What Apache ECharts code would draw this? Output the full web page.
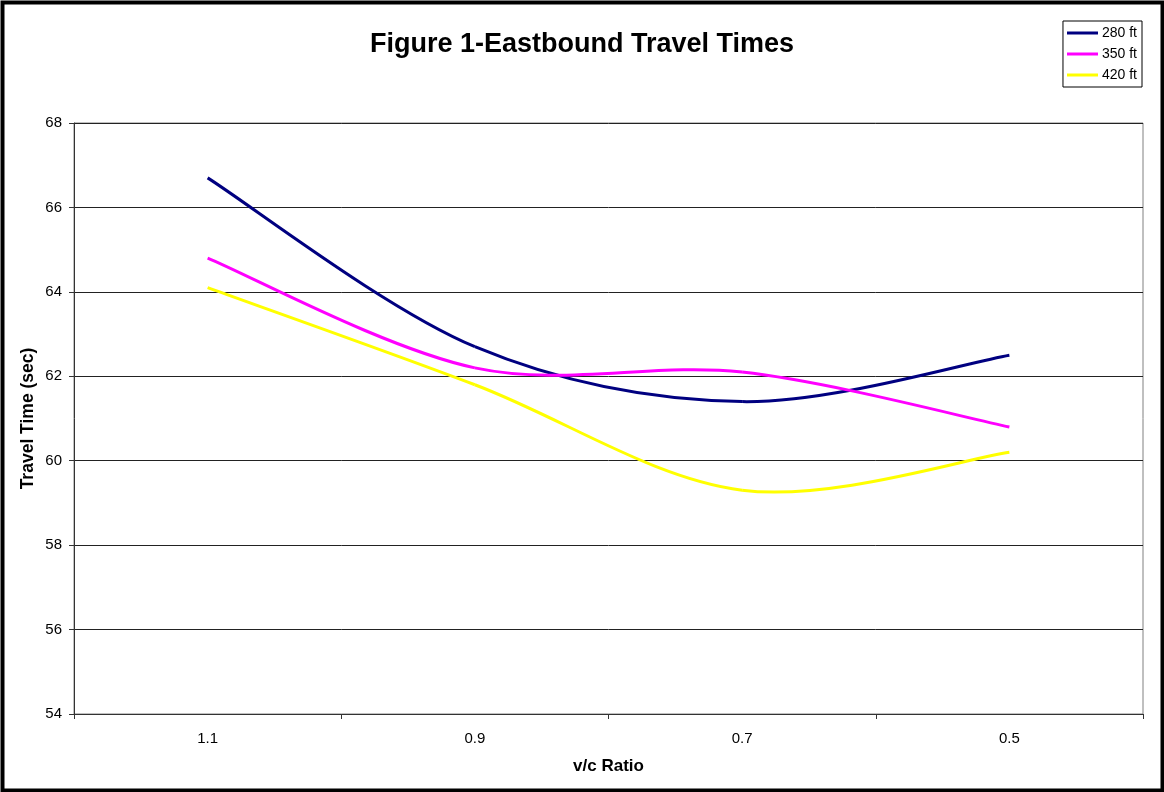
<!DOCTYPE html>
<html>
<head>
<meta charset="utf-8">
<script src="https://cdn.jsdelivr.net/npm/echarts@6/dist/echarts.min.js"></script>
<style>
  html, body { margin: 0; padding: 0; background: #fff; }
  #chart { width: 1164px; height: 792px; }
</style>
</head>
<body>
<div id="chart"></div>
<script>
// v/c ratio categories and travel times (sec) per storage length
const categories = ['1.1', '0.9', '0.7', '0.5'];
const series280 = [66.7, 62.7, 61.4, 62.5];
const series350 = [64.8, 62.2, 62.1, 60.8];
const series420 = [64.1, 61.8, 59.3, 60.2];
const seriesNames = ['280 ft', '350 ft', '420 ft'];
const seriesColors = ['#000080', '#FF00FF', '#FFFF00'];
const seriesValues = [series280, series350, series420];

const font = 'Liberation Sans, Arial, sans-serif';
const chart = echarts.init(document.getElementById('chart'));

// Smoothed line drawn segment by segment: each segment is a cubic Bezier
// through two data points, with Catmull-Rom style control points taken from
// the neighbouring points (all positions come from api.coord).
function smoothSegment(values, color) {
  return function (params, api) {
    const n = values.length;
    const i = params.dataIndex;
    if (i >= n - 1) return null;
    const pt = k => {
      const j = Math.max(0, Math.min(n - 1, k));
      return api.coord([j, values[j]]);
    };
    const p0 = pt(i - 1), p1 = pt(i), p2 = pt(i + 1), p3 = pt(i + 2);
    return {
      type: 'bezierCurve',
      shape: {
        x1: p1[0], y1: p1[1],
        x2: p2[0], y2: p2[1],
        cpx1: p1[0] + (p2[0] - p0[0]) / 6,
        cpy1: p1[1] + (p2[1] - p0[1]) / 6,
        cpx2: p2[0] - (p3[0] - p1[0]) / 6,
        cpy2: p2[1] - (p3[1] - p1[1]) / 6
      },
      style: { stroke: color, lineWidth: 3, fill: 'none', lineCap: 'butt' },
      silent: true
    };
  };
}

function curveSeries(idx) {
  const values = seriesValues[idx];
  return {
    name: seriesNames[idx],
    type: 'custom',
    data: values.map((v, i) => [i, v]),
    encode: { x: 0, y: 1 },
    renderItem: smoothSegment(values, seriesColors[idx]),
    itemStyle: { color: seriesColors[idx] },
    clip: true
  };
}

chart.setOption({
  animation: false,
  backgroundColor: '#fff',
  textStyle: { fontFamily: font },
  graphic: [{
    type: 'rect',
    left: 0, top: 0,
    shape: { x: 2, y: 2, width: 1160, height: 788 },
    style: { fill: 'none', stroke: '#000', lineWidth: 4 },
    silent: true
  }],
  title: {
    text: 'Figure 1-Eastbound Travel Times',
    left: 'center',
    top: 26,
    textStyle: { fontFamily: font, fontSize: 27, fontWeight: 'bold', color: '#000' }
  },
  legend: {
    orient: 'vertical',
    right: 22,
    top: 21,
    data: seriesNames.map(n => ({ name: n, icon: 'rect' })),
    itemWidth: 31,
    itemHeight: 3,
    itemGap: 7,
    padding: [5, 5, 5, 4],
    borderColor: '#000',
    borderWidth: 1,
    backgroundColor: '#fff',
    textStyle: { fontFamily: font, fontSize: 14, color: '#000', padding: [0, 0, 0, -1] }
  },
  grid: {
    left: 74, top: 123, right: 21, bottom: 78,
    show: true,
    borderColor: '#808080',
    borderWidth: 1
  },
  xAxis: {
    type: 'category',
    data: categories,
    boundaryGap: true,
    name: 'v/c Ratio',
    nameLocation: 'middle',
    nameGap: 44,
    nameTextStyle: { fontFamily: font, fontSize: 17, fontWeight: 'bold', color: '#000' },
    axisLine: { lineStyle: { color: '#333', width: 1 } },
    axisTick: { show: true, length: 5, alignWithLabel: false, lineStyle: { color: '#333' } },
    axisLabel: { fontFamily: font, fontSize: 15, color: '#000', margin: 17 },
    splitLine: { show: false }
  },
  yAxis: {
    type: 'value',
    min: 54,
    max: 68,
    interval: 2,
    name: 'Travel Time (sec)',
    nameLocation: 'middle',
    nameGap: 37,
    nameMoveOverlap: false,
    nameRotate: 90,
    nameTextStyle: { fontFamily: font, fontSize: 17.5, fontWeight: 'bold', color: '#000' },
    axisLine: { show: true, lineStyle: { color: '#333', width: 1 } },
    axisTick: { show: true, length: 5, lineStyle: { color: '#333' } },
    axisLabel: { fontFamily: font, fontSize: 15, color: '#000', margin: 12 },
    splitLine: { show: true, lineStyle: { color: '#222', width: 1 } }
  },
  series: [curveSeries(0), curveSeries(1), curveSeries(2)]
});
</script>
</body>
</html>
